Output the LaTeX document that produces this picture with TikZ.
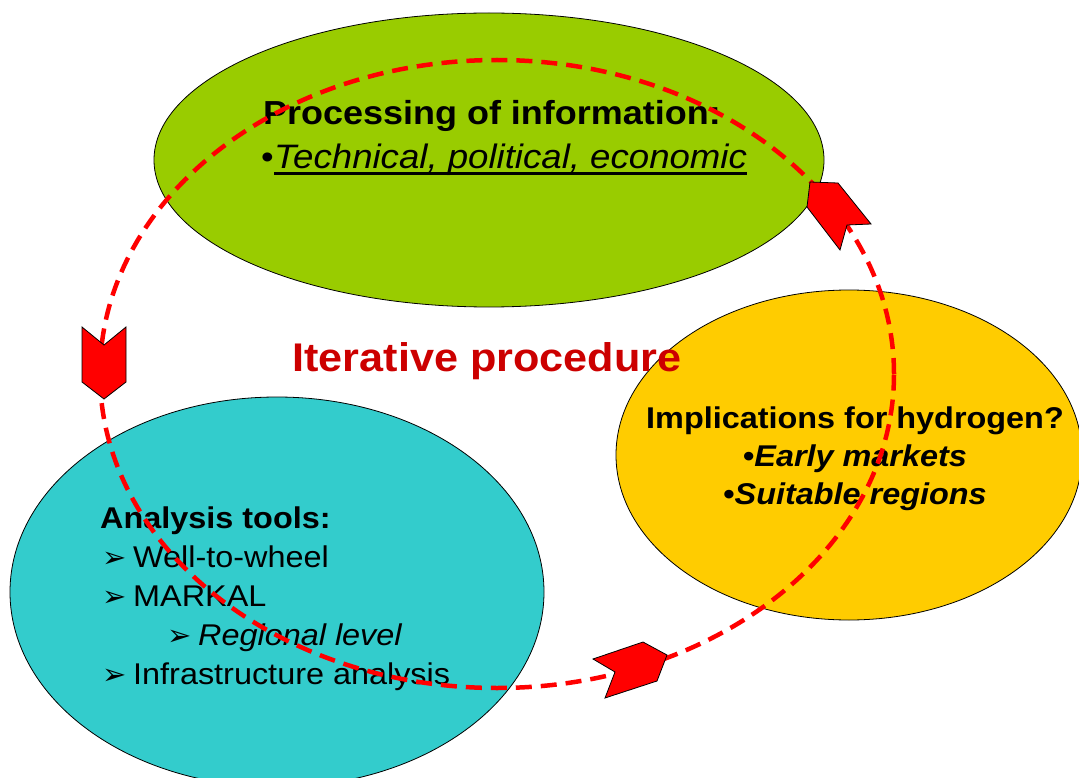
\documentclass[tikz,border=0pt]{standalone}
\usepackage{fontspec}
\setmainfont[FakeStretch=1.08]{Liberation Sans}
\newfontfamily\arrowfont{DejaVu Sans}
\usetikzlibrary{shapes.geometric}
\definecolor{infogreen}{HTML}{99CC00}
\definecolor{toolteal}{HTML}{33CCCC}
\definecolor{hydrogold}{HTML}{FFCC00}
\definecolor{iterred}{HTML}{CC0000}
\newcommand{\tick}{\makebox[31pt][l]{\arrowfont\fontsize{29}{29}\selectfont ➢}}
\begin{document}
\begin{tikzpicture}[x=1pt, y=-1pt,
  blob/.style={ellipse, draw=black, line width=0.8pt, inner sep=0pt},
  txt/.style={anchor=base west, inner sep=0pt, font=\fontsize{30}{36}\selectfont},
  mid/.style={anchor=base, inner sep=0pt, font=\fontsize{30}{36}\selectfont\bfseries},
  chev/.style={fill=red, draw=black, line width=0.8pt, line join=miter}]
\clip (0,0) rectangle (1079,778);
\node (info) at (489,160) [blob, fill=infogreen, minimum width=670pt, minimum height=294pt] {};
\node (tools) at (277,592) [blob, fill=toolteal, minimum width=534pt, minimum height=390pt] {};
\node (hydro) at (849,455) [blob, fill=hydrogold, minimum width=466pt, minimum height=330pt] {};
\node (proc) at (263,125) [txt, font=\fontsize{33.3}{40}\selectfont\bfseries] {Processing of information:};
\node (tech) at (274,169) [txt, font=\fontsize{33.9}{40}\selectfont\itshape] {Technical, political, economic};
\node (dot) at (tech.base west) [anchor=base east, inner sep=0pt, font=\fontsize{33.3}{40}\selectfont] {•};
\draw [line width=3pt] ([yshift=-5pt]tech.base west) -- ([yshift=-5pt]tech.base east);
\node (iter) at (487,371) [mid, text=iterred, font=\fontsize{40}{48}\selectfont\bfseries] {Iterative procedure};
\node (impl) at (855,428) [mid] {Implications for hydrogen?};
\node (early) at (855,466) [mid] {•\textit{Early markets}};
\node (suit) at (855,504) [mid] {•\textit{Suitable regions}};
\node (anal) at (100,528) [txt, font=\fontsize{30}{36}\selectfont\bfseries] {Analysis tools:};
\node (wtw) at (102,567) [txt] {\tick Well-to-wheel};
\node (markal) at (102,606) [txt] {\tick MARKAL};
\node (region) at (167,645) [txt] {\tick\textit{Regional level}};
\node (infra) at (102,684) [txt] {\tick Infrastructure analysis};
\node (loop) at (497,374) [ellipse, draw=red, line width=4.5pt, dash pattern=on 16pt off 9pt, minimum width=794pt, minimum height=628pt, inner sep=0pt] {};
\filldraw [chev] (82,327) -- (104,345) -- (126,327) -- (126,382) -- (104,399) -- (82,382) -- cycle;
\filldraw [chev] (810,182) -- (838,183) -- (871,224) -- (847,225) -- (840,250) -- (807,207) -- cycle;
\filldraw [chev] (593,659) -- (643,642) -- (667,655) -- (657,681) -- (605,698) -- (615,672) -- cycle;
\end{tikzpicture}
\end{document}
